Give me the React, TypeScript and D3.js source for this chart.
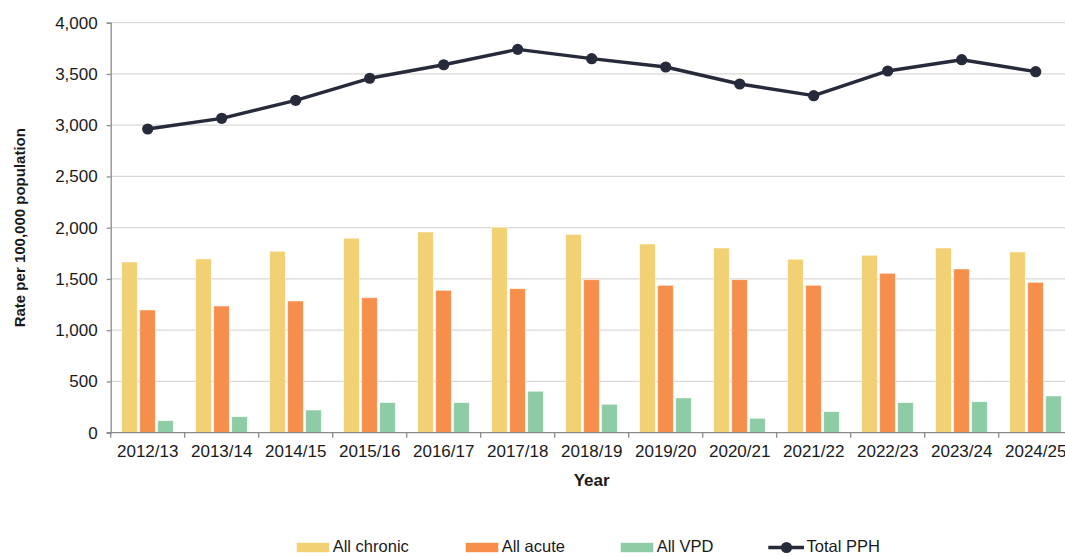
import { useEffect, useRef } from "react";
import * as d3 from "d3";

const years = ["2012/13", "2013/14", "2014/15", "2015/16", "2016/17", "2017/18", "2018/19", "2019/20", "2020/21", "2021/22", "2022/23", "2023/24", "2024/25"];
const chronic = [1665, 1695, 1770, 1897, 1958, 2004, 1935, 1841, 1802, 1692, 1731, 1802, 1763];
const acute = [1197, 1236, 1285, 1317, 1389, 1405, 1493, 1438, 1493, 1438, 1555, 1597, 1467];
const vpd = [117, 156, 221, 293, 293, 404, 277, 339, 140, 205, 293, 302, 358];
const totalPPH = [2963, 3067, 3243, 3458, 3590, 3740, 3649, 3568, 3402, 3288, 3529, 3639, 3522];
const yTicks = [0, 500, 1000, 1500, 2000, 2500, 3000, 3500, 4000];

const barSeries = [
  { name: "All chronic", values: chronic, color: "#F2D175" },
  { name: "All acute", values: acute, color: "#F78F4C" },
  { name: "All VPD", values: vpd, color: "#8DCCA5" },
];
const lineColor = "#262A3A";
const font = "'Liberation Sans', Arial, sans-serif";

export default function App() {
  const svgRef = useRef<SVGSVGElement>(null);
  const width = 1065;
  const height = 556;

  useEffect(() => {
    const svg = d3.select(svgRef.current);
    svg.selectAll("*").remove();

    const left = 110.7;
    const right = left + 74 * years.length;
    const top = 22.7;
    const bottom = 432.7;

    const x = d3.scaleBand().domain(years).range([left, right]).padding(0);
    const xInner = d3.scaleBand().domain(barSeries.map(s => s.name)).range([11, 62.6]).paddingInner(0.133);
    const y = d3.scaleLinear().domain([0, 4000]).range([bottom, top]);

    // gridlines
    svg.append("g").selectAll("line").data(yTicks.filter(t => t > 0)).join("line")
      .attr("x1", left).attr("x2", right)
      .attr("y1", d => y(d)).attr("y2", d => y(d))
      .attr("stroke", "#D9D9D9").attr("stroke-width", 1.3);

    // bars
    barSeries.forEach(s => {
      svg.append("g").selectAll("rect").data(s.values).join("rect")
        .attr("x", (d, i) => x(years[i])! + xInner(s.name)!)
        .attr("y", d => y(d))
        .attr("width", xInner.bandwidth())
        .attr("height", d => bottom - y(d))
        .attr("fill", s.color)
        .attr("stroke", "#fff").attr("stroke-opacity", 0.6).attr("stroke-width", 0.8);
    });

    // axes
    const yAxis = svg.append("g").attr("transform", `translate(${left},0)`)
      .call(d3.axisLeft(y).tickValues(yTicks).tickSize(4).tickPadding(9).tickFormat(d3.format(",")));
    yAxis.select(".domain").attr("stroke", "#8C8C8C").attr("stroke-width", 1.3);
    yAxis.selectAll(".tick line").attr("stroke", "#8C8C8C").attr("stroke-width", 1.3);
    yAxis.selectAll("text").attr("font-family", font).attr("font-size", 17).attr("fill", "#1a1a1a");

    const xAxis = svg.append("g").attr("transform", `translate(0,${bottom})`)
      .call(d3.axisBottom(x).tickSize(0).tickPadding(12));
    xAxis.select(".domain").remove();
    xAxis.selectAll("text").attr("font-family", font).attr("font-size", 17).attr("fill", "#1a1a1a");
    svg.append("line").attr("x1", left - 4).attr("x2", right).attr("y1", bottom).attr("y2", bottom)
      .attr("stroke", "#8C8C8C").attr("stroke-width", 1.3);
    svg.append("g").selectAll("line").data(d3.range(years.length + 1)).join("line")
      .attr("x1", i => left + i * x.step()).attr("x2", i => left + i * x.step())
      .attr("y1", bottom).attr("y2", bottom + 5)
      .attr("stroke", "#8C8C8C").attr("stroke-width", 1.3);

    // total PPH line
    const line = d3.line<number>().x((d, i) => x(years[i])! + x.bandwidth() / 2).y(d => y(d));
    svg.append("path").datum(totalPPH).attr("d", line)
      .attr("fill", "none").attr("stroke", lineColor).attr("stroke-width", 3.4).attr("stroke-linejoin", "round");
    svg.append("g").selectAll("circle").data(totalPPH).join("circle")
      .attr("cx", (d, i) => x(years[i])! + x.bandwidth() / 2)
      .attr("cy", d => y(d)).attr("r", 5.6).attr("fill", lineColor);

    // axis titles
    svg.append("text").attr("x", (left + right) / 2).attr("y", 486)
      .attr("text-anchor", "middle").attr("font-family", font).attr("font-weight", "bold")
      .attr("font-size", 17).attr("fill", "#1a1a1a").text("Year");
    svg.append("text").attr("transform", `translate(25,${(top + bottom) / 2}) rotate(-90)`)
      .attr("text-anchor", "middle").attr("font-family", font).attr("font-weight", "bold")
      .attr("font-size", 15).attr("fill", "#1a1a1a").text("Rate per 100,000 population");

    // legend
    const legendX = [296.7, 465.7, 620.7];
    const ly = 547.5;
    barSeries.forEach((s, i) => {
      svg.append("rect").attr("x", legendX[i]).attr("y", ly - 4.7).attr("width", 32.6).attr("height", 9.4).attr("fill", s.color);
      svg.append("text").attr("x", legendX[i] + 36).attr("y", ly + 4.5)
        .attr("font-family", font).attr("font-size", 16.5).attr("fill", "#1a1a1a").text(s.name);
    });
    svg.append("line").attr("x1", 768.3).attr("x2", 804).attr("y1", ly).attr("y2", ly)
      .attr("stroke", lineColor).attr("stroke-width", 3.4);
    svg.append("circle").attr("cx", 786.5).attr("cy", ly).attr("r", 5.6).attr("fill", lineColor);
    svg.append("text").attr("x", 806.5).attr("y", ly + 4.5)
      .attr("font-family", font).attr("font-size", 16.5).attr("fill", "#1a1a1a").text("Total PPH");
  }, []);

  return (
    <div style={{ position: "fixed", left: 0, top: 0, width, height, overflow: "hidden", background: "#fff" }}>
      <svg ref={svgRef} width={width} height={height} style={{ display: "block" }} />
    </div>
  );
}
